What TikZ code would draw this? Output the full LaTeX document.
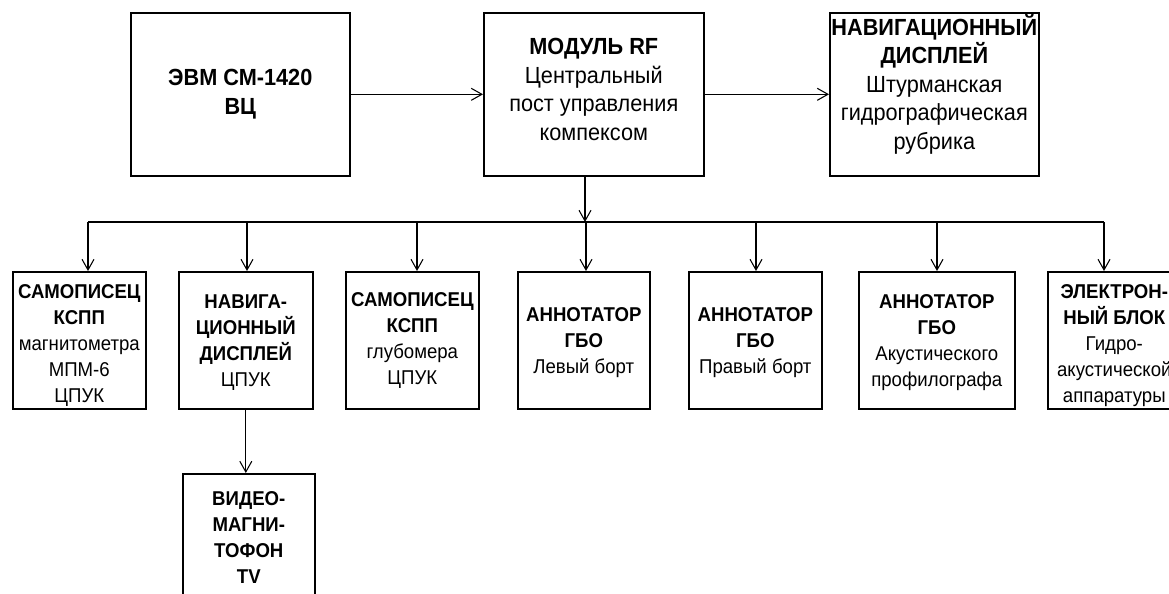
\documentclass[tikz,border=0pt]{standalone}
\usepackage{fontspec}
\setmainfont{Liberation Sans}[FakeStretch=0.93]
\usetikzlibrary{arrows.meta}

\tikzset{
  box/.style={draw, line width=1.2pt, shape=rectangle, anchor=north west, inner sep=0pt},
  topbox/.style={box, minimum width=165pt, minimum height=122.25pt},
  lowbox/.style={box, minimum width=99.75pt, minimum height=102.75pt},
  toptext/.style={inner sep=0pt, align=center, font=\fontsize{17.5pt}{21.4pt}\selectfont},
  lowtext/.style={inner sep=0pt, align=center, font=\fontsize{15pt}{19.5pt}\selectfont},
  link/.style={line width=0.8pt},
}

\begin{document}
\begin{tikzpicture}[x=0.75pt, y=-0.75pt, >={Straight Barb[length=8pt,width=9pt]}]
\useasboundingbox (0,0) rectangle (1169,593);

% upper row
\node[topbox, minimum width=164.25pt] (evm) at (130,12) {};
\node[toptext] (evmtext) at (evm.center)
{\textbf{ЭВМ СМ-1420}\\\textbf{ВЦ}};
\node[topbox] (rf) at (483,12) {};
\node[toptext] (rftext) at ([yshift=3.75pt]rf.center)
{\textbf{МОДУЛЬ RF}\\Центральный\\пост управления\\компексом};
\node[topbox, minimum width=156.75pt] (nav) at (829,12) {};
\node[toptext] (navtext) at ([yshift=7.5pt]nav.center)
{\textbf{НАВИГАЦИОННЫЙ}\\\textbf{ДИСПЛЕЙ}\\Штурманская\\гидрографическая\\рубрика};

% lower row
\node[lowbox] (b1) at (12,271) {};
\node[lowtext] (b1text) at ([yshift=-3.75pt]b1.center)
{\textbf{САМОПИСЕЦ}\\\textbf{КСПП}\\магнитометра\\МПМ-6\\ЦПУК};
\node[lowbox, minimum width=100.5pt] (b2) at (178,271) {};
\node[lowtext] (b2text) at ([yshift=-1.5pt]b2.center)
{\textbf{НАВИГА-}\\\textbf{ЦИОННЫЙ}\\\textbf{ДИСПЛЕЙ}\\ЦПУК};
\node[lowbox] (b3) at (345,271) {};
\node[lowtext] (b3text) at (b3.center)
{\textbf{САМОПИСЕЦ}\\\textbf{КСПП}\\глубомера\\ЦПУК};
\node[lowbox, minimum width=99pt] (b4) at (517,271) {};
\node[lowtext] (b4text) at ([yshift=-1.5pt]b4.center)
{\textbf{АННОТАТОР}\\\textbf{ГБО}\\Левый борт};
\node[lowbox] (b5) at (688,271) {};
\node[lowtext] (b5text) at ([yshift=-1.5pt]b5.center)
{\textbf{АННОТАТОР}\\\textbf{ГБО}\\Правый борт};
\node[lowbox, minimum width=117pt] (b6) at (858,271) {};
\node[lowtext] (b6text) at ([yshift=-2pt]b6.center)
{\textbf{АННОТАТОР}\\\textbf{ГБО}\\Акустического\\профилографа};
\node[lowbox] (b7) at (1047,271) {};
\node[lowtext] (b7text) at ([yshift=-3.75pt]b7.center)
{\textbf{ЭЛЕКТРОН-}\\\textbf{НЫЙ БЛОК}\\Гидро-\\акустической\\аппаратуры};
\node[lowbox, minimum width=99pt] (video) at (182,473) {};
\node[lowtext] (videotext) at ([yshift=3.75pt]video.center)
{\textbf{ВИДЕО-}\\\textbf{МАГНИ-}\\\textbf{ТОФОН}\\\textbf{TV}};

\draw[->, link] (evm.east) -- (rf.west);
\draw[->, link] (rf.east) -- (nav.west);

% bus under the module
\coordinate (hub) at (585,222);
\draw[->, link] (hub |- rf.south) -- (hub);
\foreach \x/\b in {88/b1, 247/b2, 417/b3, 586/b4, 756/b5, 937/b6, 1104/b7}
  \coordinate (t\b) at (\x,222);
\draw[link] (tb1) -- (tb7);
\foreach \b in {b1,b2,b3,b4,b5,b6,b7}
  \draw[->, link] (t\b) -- (t\b |- \b.north);

\draw[->, link] (b2.south) -- (b2.south |- video.north);

\end{tikzpicture}
\end{document}
